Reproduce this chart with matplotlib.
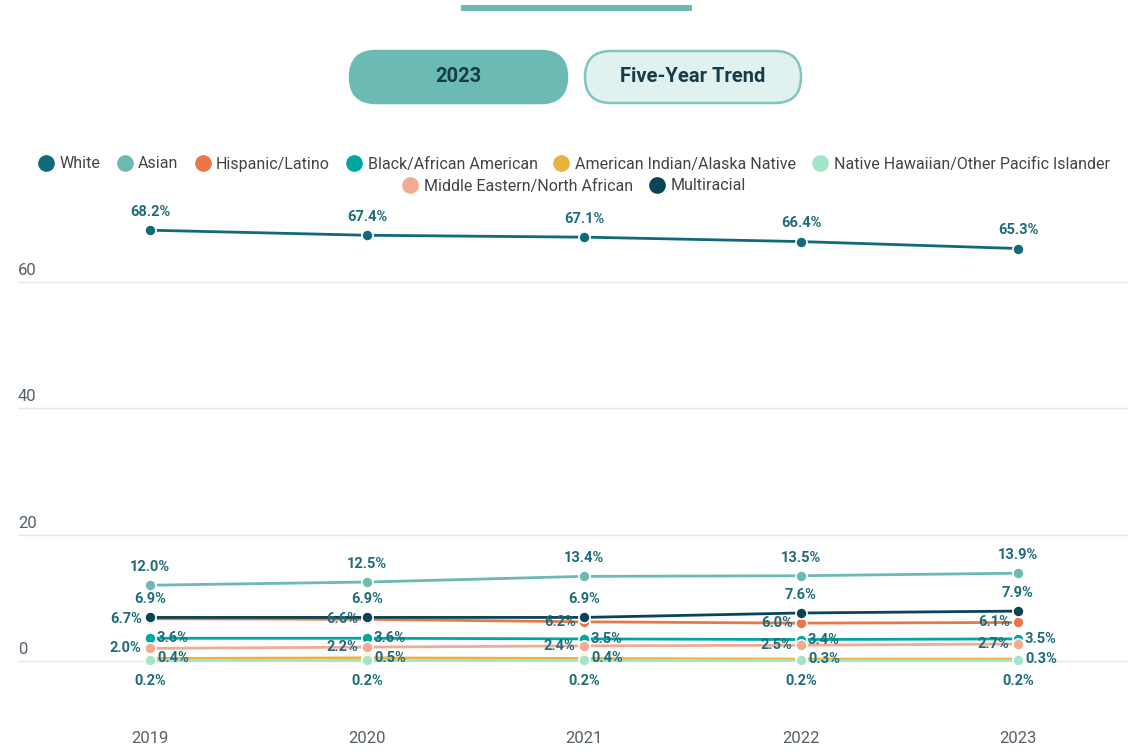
import matplotlib.pyplot as plt
from matplotlib.patches import FancyBboxPatch, Rectangle
from matplotlib.lines import Line2D

plt.rcParams['font.family'] = ['Roboto', 'DejaVu Sans']

# --- DATA ---
years = [2019, 2020, 2021, 2022, 2023]
groups = ["White", "Asian", "Hispanic/Latino", "Black/African American",
          "American Indian/Alaska Native", "Native Hawaiian/Other Pacific Islander",
          "Middle Eastern/North African", "Multiracial"]
white = [68.2, 67.4, 67.1, 66.4, 65.3]
asian = [12.0, 12.5, 13.4, 13.5, 13.9]
hispanic = [6.7, 6.6, 6.2, 6.0, 6.1]
black = [3.6, 3.6, 3.5, 3.4, 3.5]
aian = [0.4, 0.5, 0.4, 0.3, 0.3]
nhpi = [0.2, 0.2, 0.2, 0.2, 0.2]
mena = [2.0, 2.2, 2.4, 2.5, 2.7]
multi = [6.9, 6.9, 6.9, 7.6, 7.9]
y_ticks = [0, 20, 40, 60]
buttons = ["2023", "Five-Year Trend"]

series = [white, asian, hispanic, black, aian, nhpi, mena, multi]
colors = ["#0f6b78", "#6cbab3", "#e8784a", "#00a6a0",
          "#e8b43c", "#a3e4c9", "#f0ab90", "#0b4356"]
# where each series puts its value labels
label_side = ["above", "above", "left", "right", "right", "below", "left", "above"]
LABEL_COLOR = "#1e6c7b"

W, H = 1141, 752
fig = plt.figure(figsize=(W / 100, H / 100), dpi=100)

# background overlay in pixel coordinates, for the header bar and buttons
bg = fig.add_axes([0, 0, 1, 1], zorder=-1)
bg.set_xlim(0, W)
bg.set_ylim(H, 0)
bg.axis("off")

bg.add_patch(Rectangle((461, 5), 231, 6, color="#6cbab3", lw=0))
pill_style = [("#6bbab3", "#6bbab3", 349, 568), ("#e1f1f0", "#80c6bf", 584, 802)]
for label, (face, edge, x0, x1) in zip(buttons, pill_style):
    y0, y1 = 51, 103
    h = y1 - y0
    bg.add_patch(FancyBboxPatch((x0 + 1, y0), x1 - x0 - 2, h,
                                boxstyle=f"round,pad=0,rounding_size={h / 2}",
                                facecolor=face, edgecolor=edge, lw=1.8))
    bg.text((x0 + x1) / 2, (y0 + y1) / 2, label, ha="center", va="center",
            fontsize=14.5, fontweight="bold", color="#163b4b")

# chart axes placed in pixel terms: gridlines from x=18 to 1128, y=0 at px 661, 60 at px 282
px_per_unit = (661 - 282) / 60.0
ax_left, ax_right = 18, 1128
ax_top, ax_bot = 200, 700
ax = fig.add_axes([ax_left / W, 1 - ax_bot / H, (ax_right - ax_left) / W, (ax_bot - ax_top) / H])
ax.set_xlim(2019 - (150 - 18) / 217.0, 2023 + (1128 - 1018) / 217.0)
ax.set_ylim(-(ax_bot - 661) / px_per_unit, (661 - ax_top) / px_per_unit)
ax.patch.set_alpha(0)

for s in ax.spines.values():
    s.set_visible(False)
ax.set_yticks([])
ax.set_xticks(years)
ax.set_xticklabels([str(y) for y in years], fontsize=12, color="#55606a")
ax.tick_params(axis='x', length=0, pad=22)

for t in y_ticks:
    ax.axhline(t, color="#e6e6e6", lw=1, zorder=0)
    ax.annotate(str(t), xy=(0, t), xycoords=ax.get_yaxis_transform(),
                xytext=(0, 3), textcoords="offset points",
                ha="left", va="bottom", fontsize=12, color="#55606a")

offsets = {"above": (0, 8, "center", "bottom"),
           "below": (0, -10, "center", "top"),
           "left": (-6, 0, "right", "center"),
           "right": (5, 0, "left", "center")}

for vals, c, side in zip(series, colors, label_side):
    ax.plot(years, vals, color=c, lw=2, marker="o", markersize=8,
            markeredgecolor="white", markeredgewidth=1.2, clip_on=False, zorder=3)
    dx, dy, ha, va = offsets[side]
    for x, v in zip(years, vals):
        ax.annotate(f"{v:.1f}%", xy=(x, v), xytext=(dx, dy), textcoords="offset points",
                    ha=ha, va=va, fontsize=10.5, fontweight="bold", color=LABEL_COLOR,
                    zorder=4, annotation_clip=False)

# --- LEGEND (two centred rows) ---
handles = [Line2D([], [], linestyle="none", marker="o", markersize=11,
                  markerfacecolor=c, markeredgecolor=c) for c in colors]
leg_kw = dict(frameon=False, fontsize=11.5, handletextpad=0.35, columnspacing=1.0,
              handlelength=1.0, borderaxespad=0, labelcolor="#444444")
fig.legend(handles[:6], groups[:6], ncol=6, loc="center", bbox_to_anchor=(0.503, 1 - 164 / H), **leg_kw)
fig.legend(handles[6:], groups[6:], ncol=2, loc="center", bbox_to_anchor=(0.503, 1 - 186 / H), **leg_kw)

fig.savefig("out.png", dpi=100)
